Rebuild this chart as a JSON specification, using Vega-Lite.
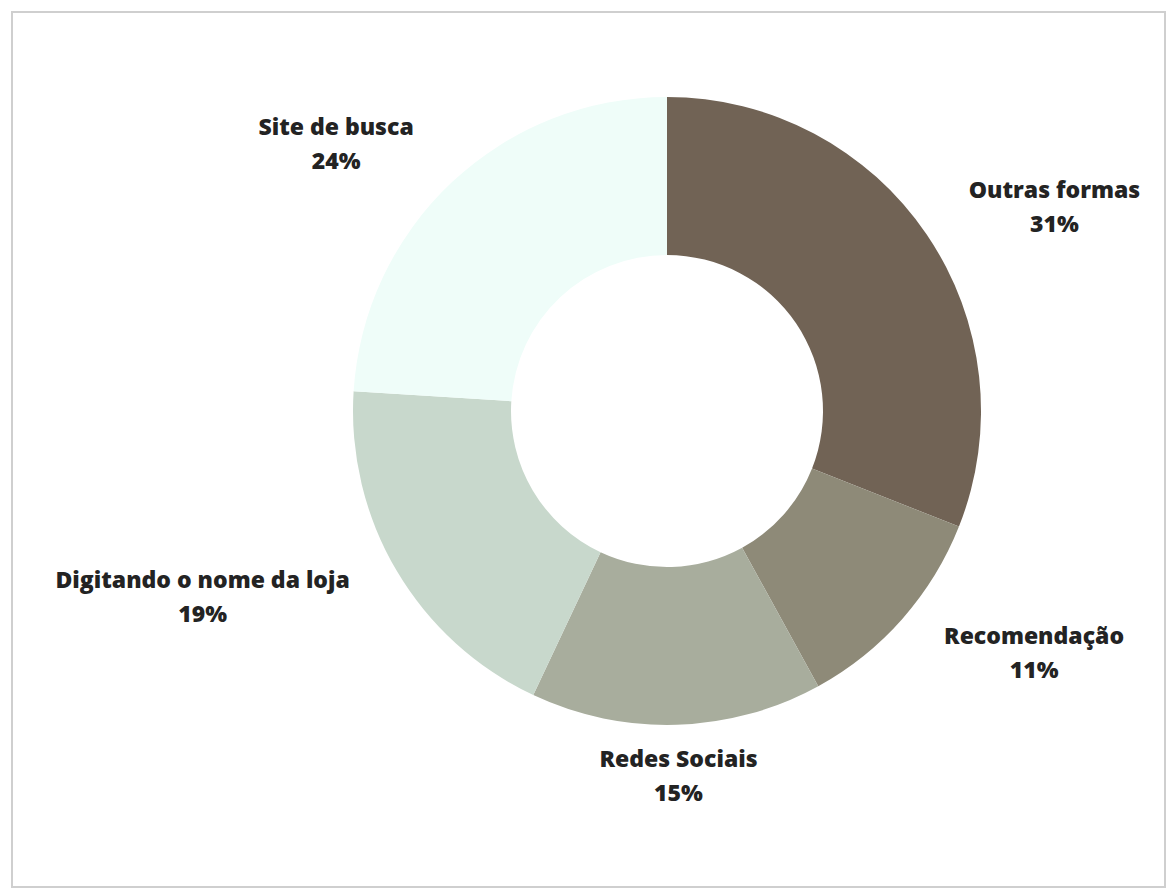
{
  "$schema": "https://vega.github.io/schema/vega-lite/v6.json",
  "width": 1153,
  "height": 875,
  "autosize": {"type": "none"},
  "padding": {"left": 12, "top": 12, "right": 4, "bottom": 3},
  "background": "white",
  "view": {"stroke": "#cfcfcf", "strokeWidth": 2, "fill": "white"},
  "config": {"view": {"stroke": "#cfcfcf", "strokeWidth": 2}},
  "data": {
    "values": [
      {"categoria": "Outras formas", "pct": 31, "ordem": 1},
      {"categoria": "Recomendação", "pct": 11, "ordem": 2},
      {"categoria": "Redes Sociais", "pct": 15, "ordem": 3},
      {"categoria": "Digitando o nome da loja", "pct": 19, "ordem": 4},
      {"categoria": "Site de busca", "pct": 24, "ordem": 5}
    ]
  },
  "transform": [
    {"window": [{"op": "sum", "field": "pct", "as": "fim"}], "sort": [{"field": "ordem"}], "frame": [null, 0]},
    {"calculate": "datum.fim - datum.pct", "as": "inicio"},
    {"calculate": "(datum.inicio + datum.fim) / 2", "as": "meio"},
    {"calculate": "[datum.categoria, datum.pct + '%']", "as": "rotulo"}
  ],
  "layer": [
    {
      "mark": {"type": "arc", "outerRadius": 314, "innerRadius": 156, "x": 655, "y": 399},
      "encoding": {
        "theta": {"field": "inicio", "type": "quantitative", "stack": null, "scale": {"domain": [0, 100]}},
        "theta2": {"field": "fim"},
        "color": {
          "field": "categoria",
          "type": "nominal",
          "scale": {
            "domain": ["Outras formas", "Recomendação", "Redes Sociais", "Digitando o nome da loja", "Site de busca"],
            "range": ["#716355", "#8e8a78", "#a8ad9d", "#c8d8cc", "#effdf9"]
          },
          "legend": null
        }
      }
    },
    {
      "transform": [{"filter": "datum.ordem == 1"}],
      "mark": {"type": "text", "x": 655, "y": 399, "radius": 437, "dx": 26, "dy": 26, "font": "Open Sans", "fontWeight": 800, "fontSize": 23, "lineHeight": 34, "color": "#232323", "align": "center", "baseline": "middle"},
      "encoding": {
        "theta": {"field": "meio", "type": "quantitative", "stack": null, "scale": {"domain": [0, 100]}},
        "text": {"field": "rotulo"}
      }
    },
    {
      "transform": [{"filter": "datum.ordem == 2"}],
      "mark": {"type": "text", "x": 655, "y": 399, "radius": 440, "dx": 37, "dy": -65, "font": "Open Sans", "fontWeight": 800, "fontSize": 23, "lineHeight": 34, "color": "#232323", "align": "center", "baseline": "middle"},
      "encoding": {
        "theta": {"field": "meio", "type": "quantitative", "stack": null, "scale": {"domain": [0, 100]}},
        "text": {"field": "rotulo"}
      }
    },
    {
      "transform": [{"filter": "datum.ordem == 3"}],
      "mark": {"type": "text", "x": 655, "y": 399, "radius": 366, "dx": 0, "dy": -17, "font": "Open Sans", "fontWeight": 800, "fontSize": 23, "lineHeight": 34, "color": "#232323", "align": "center", "baseline": "middle"},
      "encoding": {
        "theta": {"field": "meio", "type": "quantitative", "stack": null, "scale": {"domain": [0, 100]}},
        "text": {"field": "rotulo"}
      }
    },
    {
      "transform": [{"filter": "datum.ordem == 4"}],
      "mark": {"type": "text", "x": 655, "y": 399, "radius": 500, "dx": -34, "dy": -85, "font": "Open Sans", "fontWeight": 800, "fontSize": 23, "lineHeight": 34, "color": "#232323", "align": "center", "baseline": "middle"},
      "encoding": {
        "theta": {"field": "meio", "type": "quantitative", "stack": null, "scale": {"domain": [0, 100]}},
        "text": {"field": "rotulo"}
      }
    },
    {
      "transform": [{"filter": "datum.ordem == 5"}],
      "mark": {"type": "text", "x": 655, "y": 399, "radius": 425, "dx": -40, "dy": 27, "font": "Open Sans", "fontWeight": 800, "fontSize": 23, "lineHeight": 34, "color": "#232323", "align": "center", "baseline": "middle"},
      "encoding": {
        "theta": {"field": "meio", "type": "quantitative", "stack": null, "scale": {"domain": [0, 100]}},
        "text": {"field": "rotulo"}
      }
    }
  ]
}
